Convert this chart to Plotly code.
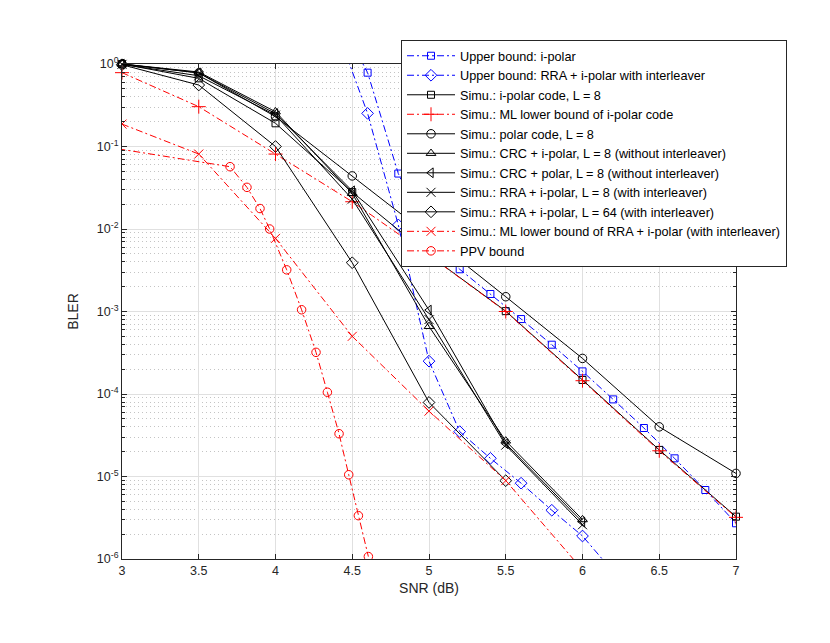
import plotly.graph_objects as go

# SNR grid (dB)
snr_sim = [3, 3.5, 4, 4.5, 5, 5.5, 6, 6.5, 7]
snr_short = [3, 3.5, 4, 4.5, 5, 5.5, 6]
snr_ub = [4.4, 4.6, 4.8, 5.0, 5.2, 5.4, 5.6, 5.8, 6.0, 6.2, 6.4, 6.6, 6.8, 7.0]
snr_ub_rra = [4.4, 4.6, 4.8, 5.0, 5.2, 5.4, 5.6, 5.8, 6.0, 6.2]
snr_l64 = [3, 3.5, 4, 4.5, 5, 5.5]
snr_ml_rra = [3, 3.5, 4, 4.5, 5, 5.5, 6]
snr_ppv = [2.88, 3.704, 3.814, 3.899, 3.962, 4.073, 4.17, 4.264, 4.338, 4.414, 4.477, 4.54, 4.605]

# BLER values
ub_ipolar = [3.9, 0.785, 0.047, 7.2e-3, 3.25e-3, 1.63e-3, 8.1e-4, 3.96e-4, 1.88e-4,
             8.6e-5, 3.87e-5, 1.66e-5, 6.86e-6, 2.71e-6]
ub_rra = [2.6, 0.252, 0.0112, 2.5e-4, 3.5e-5, 1.66e-5, 8.3e-6, 3.9e-6, 1.9e-6, 7e-7]
sim_ipolar = [1.0, 0.67, 0.191, 0.028, 4.84e-3, 1.01e-3, 1.48e-4, 2.1e-5, 3.26e-6]
ml_ipolar = [0.785, 0.304, 0.081, 0.0214, 4.8e-3, 1.0e-3, 1.45e-4, 2.05e-5, 3.2e-6]
sim_polar = [1.0, 0.78, 0.23, 0.044, 8.3e-3, 1.51e-3, 2.7e-4, 4.0e-5, 1.09e-5]
crc_ipolar = [1.0, 0.8, 0.264, 0.027, 6.6e-4, 2.7e-5, 3.0e-6]
crc_polar = [1.0, 0.78, 0.25, 0.029, 1.04e-3, 2.5e-5, 2.8e-6]
rra_l8 = [0.99, 0.72, 0.24, 0.023, 8.0e-4, 2.4e-5, 2.6e-6]
rra_l64 = [0.98, 0.556, 0.1, 3.9e-3, 7.9e-5, 8.9e-6]
ml_rra = [0.187, 0.081, 7.7e-3, 5.0e-4, 6.2e-5, 8.9e-6, 7.4e-7]
ppv = [0.1, 0.0569, 0.032, 0.0177, 0.01, 3.2e-3, 1.05e-3, 3.2e-4, 1.05e-4,
       3.3e-5, 1.05e-5, 3.35e-6, 1.07e-6]

BLUE = "#0000ff"
RED = "#ff0000"
BLACK = "#000000"
DASHDOT = "7px,3px,2px,3px"

# name, x, y, colour, dash, marker symbol, marker size, clip markers at axes
series = [
    ("Upper bound: i-polar", snr_ub, ub_ipolar, BLUE, DASHDOT, "square-open", 7, True),
    ("Upper bound: RRA + i-polar with interleaver", snr_ub_rra, ub_rra, BLUE, DASHDOT, "diamond-open", 9, True),
    ("Simu.: i-polar code, L = 8", snr_sim, sim_ipolar, BLACK, "solid", "square-open", 7, False),
    ("Simu.: ML lower bound of i-polar code", snr_sim, ml_ipolar, RED, DASHDOT, "cross-thin-open", 10, False),
    ("Simu.: polar code, L = 8", snr_sim, sim_polar, BLACK, "solid", "circle-open", 8.5, False),
    ("Simu.: CRC + i-polar, L = 8 (without interleaver)", snr_short, crc_ipolar, BLACK, "solid", "triangle-up-open", 8.5, False),
    ("Simu.: CRC + polar, L = 8 (without interleaver)", snr_short, crc_polar, BLACK, "solid", "triangle-left-open", 8.5, False),
    ("Simu.: RRA + i-polar, L = 8 (with interleaver)", snr_short, rra_l8, BLACK, "solid", "x-thin-open", 9, False),
    ("Simu.: RRA + i-polar, L = 64 (with interleaver)", snr_l64, rra_l64, BLACK, "solid", "diamond-open", 9, False),
    ("Simu.: ML lower bound of RRA + i-polar (with interleaver)", snr_ml_rra, ml_rra, RED, DASHDOT, "x-thin-open", 9, True),
    ("PPV bound", snr_ppv, ppv, RED, DASHDOT, "circle-open", 8.5, True),
]

fig = go.Figure()
for name, xs, ys, col, dash, sym, msize, clip in series:
    fig.add_trace(go.Scatter(
        x=xs, y=ys, name=name, mode="lines+markers",
        line=dict(color=col, width=1, dash=dash),
        marker=dict(symbol=sym, size=msize, color=col, line=dict(color=col, width=1)),
        cliponaxis=clip,
    ))

FONT = "Liberation Sans, Arial, Helvetica, sans-serif"
axis_font = dict(family=FONT, size=12.5, color="#262626")

fig.update_xaxes(
    range=[3, 7], dtick=0.5,
    title=dict(text="SNR (dB)", font=dict(family=FONT, size=14, color="#262626"), standoff=6),
    showgrid=True, gridcolor="#e0e0e0", gridwidth=1, zeroline=False,
    showline=True, linecolor="#262626", linewidth=1, mirror="ticks",
    ticks="inside", ticklen=5, tickcolor="#262626", tickfont=axis_font,
)
fig.update_yaxes(
    type="log", range=[-6, 0],
    tickvals=[1, 1e-1, 1e-2, 1e-3, 1e-4, 1e-5, 1e-6],
    ticktext=["10<sup>0</sup>", "10<sup>-1</sup>", "10<sup>-2</sup>", "10<sup>-3</sup>",
              "10<sup>-4</sup>", "10<sup>-5</sup>", "10<sup>-6</sup>"],
    title=dict(text="BLER", font=dict(family=FONT, size=14, color="#262626"), standoff=14),
    showgrid=True, gridcolor="#e0e0e0", gridwidth=1, zeroline=False,
    showline=True, linecolor="#262626", linewidth=1, mirror="ticks",
    ticks="inside", ticklen=5, tickcolor="#262626", tickfont=axis_font,
    minor=dict(ticks="inside", ticklen=3, tickcolor="#262626", showgrid=True,
               gridcolor="#c4c4c4", griddash="1px,3px", gridwidth=1, dtick="D1"),
)

fig.update_layout(
    width=830, height=643,
    margin=dict(l=114, r=102, t=56, b=92),
    paper_bgcolor="white", plot_bgcolor="white",
    font=dict(family=FONT, size=12.5, color="#262626"),
    legend=dict(
        x=0.4544, y=1.0485, xanchor="left", yanchor="top",
        bgcolor="white", bordercolor="#262626", borderwidth=1,
        font=dict(family=FONT, size=12.7, color="#000000"),
        tracegroupgap=0, itemwidth=48,
    ),
    showlegend=True,
)

fig.write_html("out.html")
